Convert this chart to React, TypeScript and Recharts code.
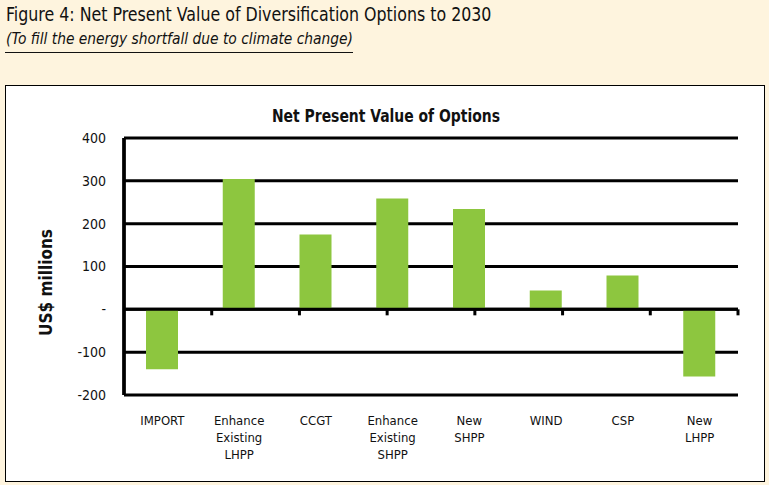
import React from 'react';
import { BarChart, Bar, XAxis, YAxis, CartesianGrid, ReferenceLine, Label } from 'recharts';

const categories = [
  'IMPORT',
  'Enhance\nExisting\nLHPP',
  'CCGT',
  'Enhance\nExisting\nSHPP',
  'New\nSHPP',
  'WIND',
  'CSP',
  'New\nLHPP',
];
const npvValues = [-140, 304, 175, 259, 234, 44, 79, -157];
const yTicks = [-200, -100, 0, 100, 200, 300, 400];
const boundaryTicks = [1, 2, 3, 4, 5, 6, 7];

const FONT = '"DejaVu Sans Condensed", "Liberation Sans Narrow", "Liberation Sans", sans-serif';

const data = categories.map((name, i) => ({ name, value: npvValues[i] }));

const CategoryTick = (props: any) => {
  const { x, y, payload } = props;
  const lines = String(payload.value).split('\n');
  return (
    <text x={x} y={y} textAnchor="middle" fontFamily={FONT} fontSize={13} fill="#111">
      {lines.map((l, i) => (
        <tspan key={i} x={x} dy={i === 0 ? 22 : 17}>{l}</tspan>
      ))}
    </text>
  );
};

const YTitle = (props: any) => {
  const { viewBox } = props;
  const cx = viewBox.x + 40;
  const cy = viewBox.y + viewBox.height / 2 + 16;
  return (
    <text
      x={cx}
      y={cy}
      transform={`rotate(-90 ${cx} ${cy})`}
      textAnchor="middle"
      dominantBaseline="central"
      fontFamily={FONT}
      fontSize={17}
      fontWeight="bold"
      fill="#111"
    >
      US$ millions
    </text>
  );
};

const formatY = (v: number) => (v === 0 ? '-' : String(v));

const App = () => {
  return (
    <div style={{ position: 'absolute', left: 0, top: 0, width: 769, height: 485, background: '#FEF4DE', fontFamily: FONT, overflow: 'hidden' }}>
      <style>{'body{margin:0}'}</style>
      <div style={{ position: 'absolute', left: 6, top: 2, fontSize: 20, color: '#111', transform: 'scaleX(0.88)', transformOrigin: 'left', whiteSpace: 'nowrap' }}>
        Figure 4: Net Present Value of Diversification Options to 2030
      </div>
      <div style={{ position: 'absolute', left: 6, top: 29, fontSize: 16, fontStyle: 'italic', color: '#111', transform: 'scaleX(0.96)', transformOrigin: 'left', whiteSpace: 'nowrap' }}>
        (To fill the energy shortfall due to climate change)
      </div>
      <div style={{ position: 'absolute', left: 5, top: 52, width: 348, height: 1, background: '#111' }} />
      <div style={{ position: 'absolute', left: 5, top: 85, width: 758, height: 395, background: '#fff', border: '1.5px solid #000' }}>
        <div style={{ position: 'absolute', left: 0, width: 760, top: 19, textAlign: 'center', fontWeight: 'bold', fontSize: 18, color: '#111', transform: 'scaleX(0.86)', whiteSpace: 'nowrap' }}>
          Net Present Value of Options
        </div>
        <BarChart
          width={758}
          height={395}
          data={data}
          margin={{ top: 52, right: 26, left: 0, bottom: 0 }}
          barSize={32}
        >
          <CartesianGrid vertical={false} stroke="#000" strokeWidth={3} />
          <XAxis
            dataKey="name"
            xAxisId="cat"
            axisLine={false}
            tickLine={false}
            interval={0}
            tick={<CategoryTick />}
            height={86}
          />
          <XAxis xAxisId="num" type="number" domain={[0, 8]} hide />
          <YAxis
            domain={[-200, 400]}
            ticks={yTicks}
            tickFormatter={formatY}
            axisLine={{ stroke: '#000', strokeWidth: 3 }}
            tickLine={false}
            width={118}
            tick={{ fontFamily: FONT, fontSize: 14, fill: '#111' }}
            tickMargin={12}
          >
            <Label content={<YTitle />} />
          </YAxis>
          <Bar dataKey="value" xAxisId="cat" fill="#8DC63F" isAnimationActive={false} />
          <ReferenceLine xAxisId="num" x={0} stroke="#000" strokeWidth={3.5} ifOverflow="visible" />
          <ReferenceLine xAxisId="num" x={8} stroke="#000" strokeWidth={3} ifOverflow="visible" />
          <ReferenceLine xAxisId="num" y={0} stroke="#000" strokeWidth={3} ifOverflow="visible" />
          {boundaryTicks.map((t) => (
            <ReferenceLine
              key={t}
              xAxisId="num"
              segment={[{ x: t, y: 0 }, { x: t, y: -14 }]}
              stroke="#000"
              strokeWidth={3}
              ifOverflow="visible"
            />
          ))}
        </BarChart>
      </div>
    </div>
  );
};

export default App;
